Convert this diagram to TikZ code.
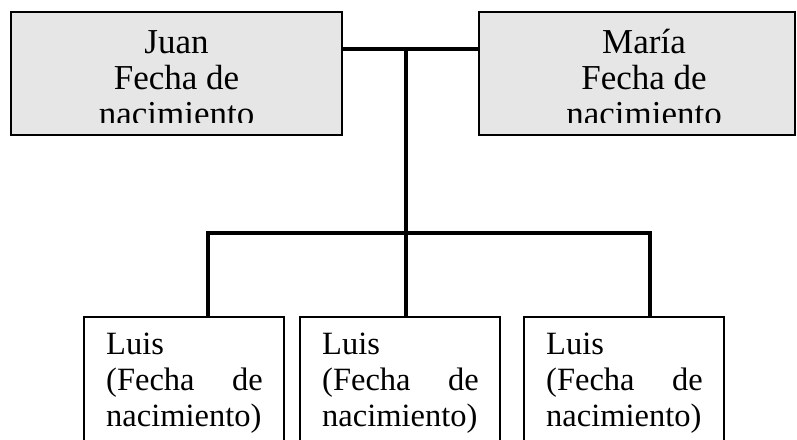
\documentclass[tikz,border=0pt]{standalone}
\usepackage{fontspec}
\setmainfont{Liberation Serif}
\usepackage{xcolor}
\definecolor{grisclair}{HTML}{E6E6E6}

\tikzset{
  padre/.style={draw, fill=grisclair, line width=2pt, inner sep=0pt},
  hijo/.style={draw, fill=white, line width=2pt, inner sep=0pt,
    minimum width=200pt, minimum height=160pt, anchor=north},
  lien/.style={line width=3.5pt},
  textop/.style={inner sep=0pt, anchor=base, font=\fontsize{35}{36}\selectfont},
  textoh/.style={inner sep=0pt, font=\fontsize{32.5}{36}\selectfont},
}

\begin{document}
\begin{tikzpicture}[x=1pt,y=-1pt]
  \path[use as bounding box] (0,0) rectangle (797,439);
  \clip (0,0) rectangle (797,439);

  % Les parents
  \node[padre, minimum width=331pt, minimum height=123pt] (juan) at (176.5,73.5) {};
  \node[padre, minimum width=316pt, minimum height=123pt] (maria) at (637,73.5) {};

  % Textes des parents (coupés en bas)
  \begin{scope}
    \clip (11,12) rectangle (797,122.7);
    \node[textop] at (176.5,53) {Juan};
    \node[textop] at (176.5,89) {Fecha de};
    \node[textop] at (176.5,125) {nacimiento};
    \node[textop] at (644,53) {María};
    \node[textop] at (644,89) {Fecha de};
    \node[textop] at (644,125) {nacimiento};
  \end{scope}

  % Les enfants
  \foreach \x/\nom in {84/hijoa,300/hijob,524/hijoc} {
    \node[hijo] (\nom) at (\x+100,316) {};
    \node[textoh, anchor=base west] at (\x+22,354) {Luis};
    \node[textoh, anchor=base west] at (\x+22,390) {(Fecha};
    \node[textoh, anchor=base east] at (\x+179,390) {de};
    \node[textoh, anchor=base west] at (\x+22,426) {nacimiento)};
  }

  % Les liens
  \coordinate (pareja) at (406,49);
  \coordinate (brancha) at (208,233);
  \coordinate (branchc) at (650,233);
  \draw[lien] (juan.east |- pareja) -- (maria.west |- pareja);
  \draw[lien] (pareja) -- (hijob.north -| pareja);
  \draw[lien] (hijoa.north -| brancha) -- (brancha) -- (branchc) -- (hijoc.north -| branchc);
\end{tikzpicture}
\end{document}
